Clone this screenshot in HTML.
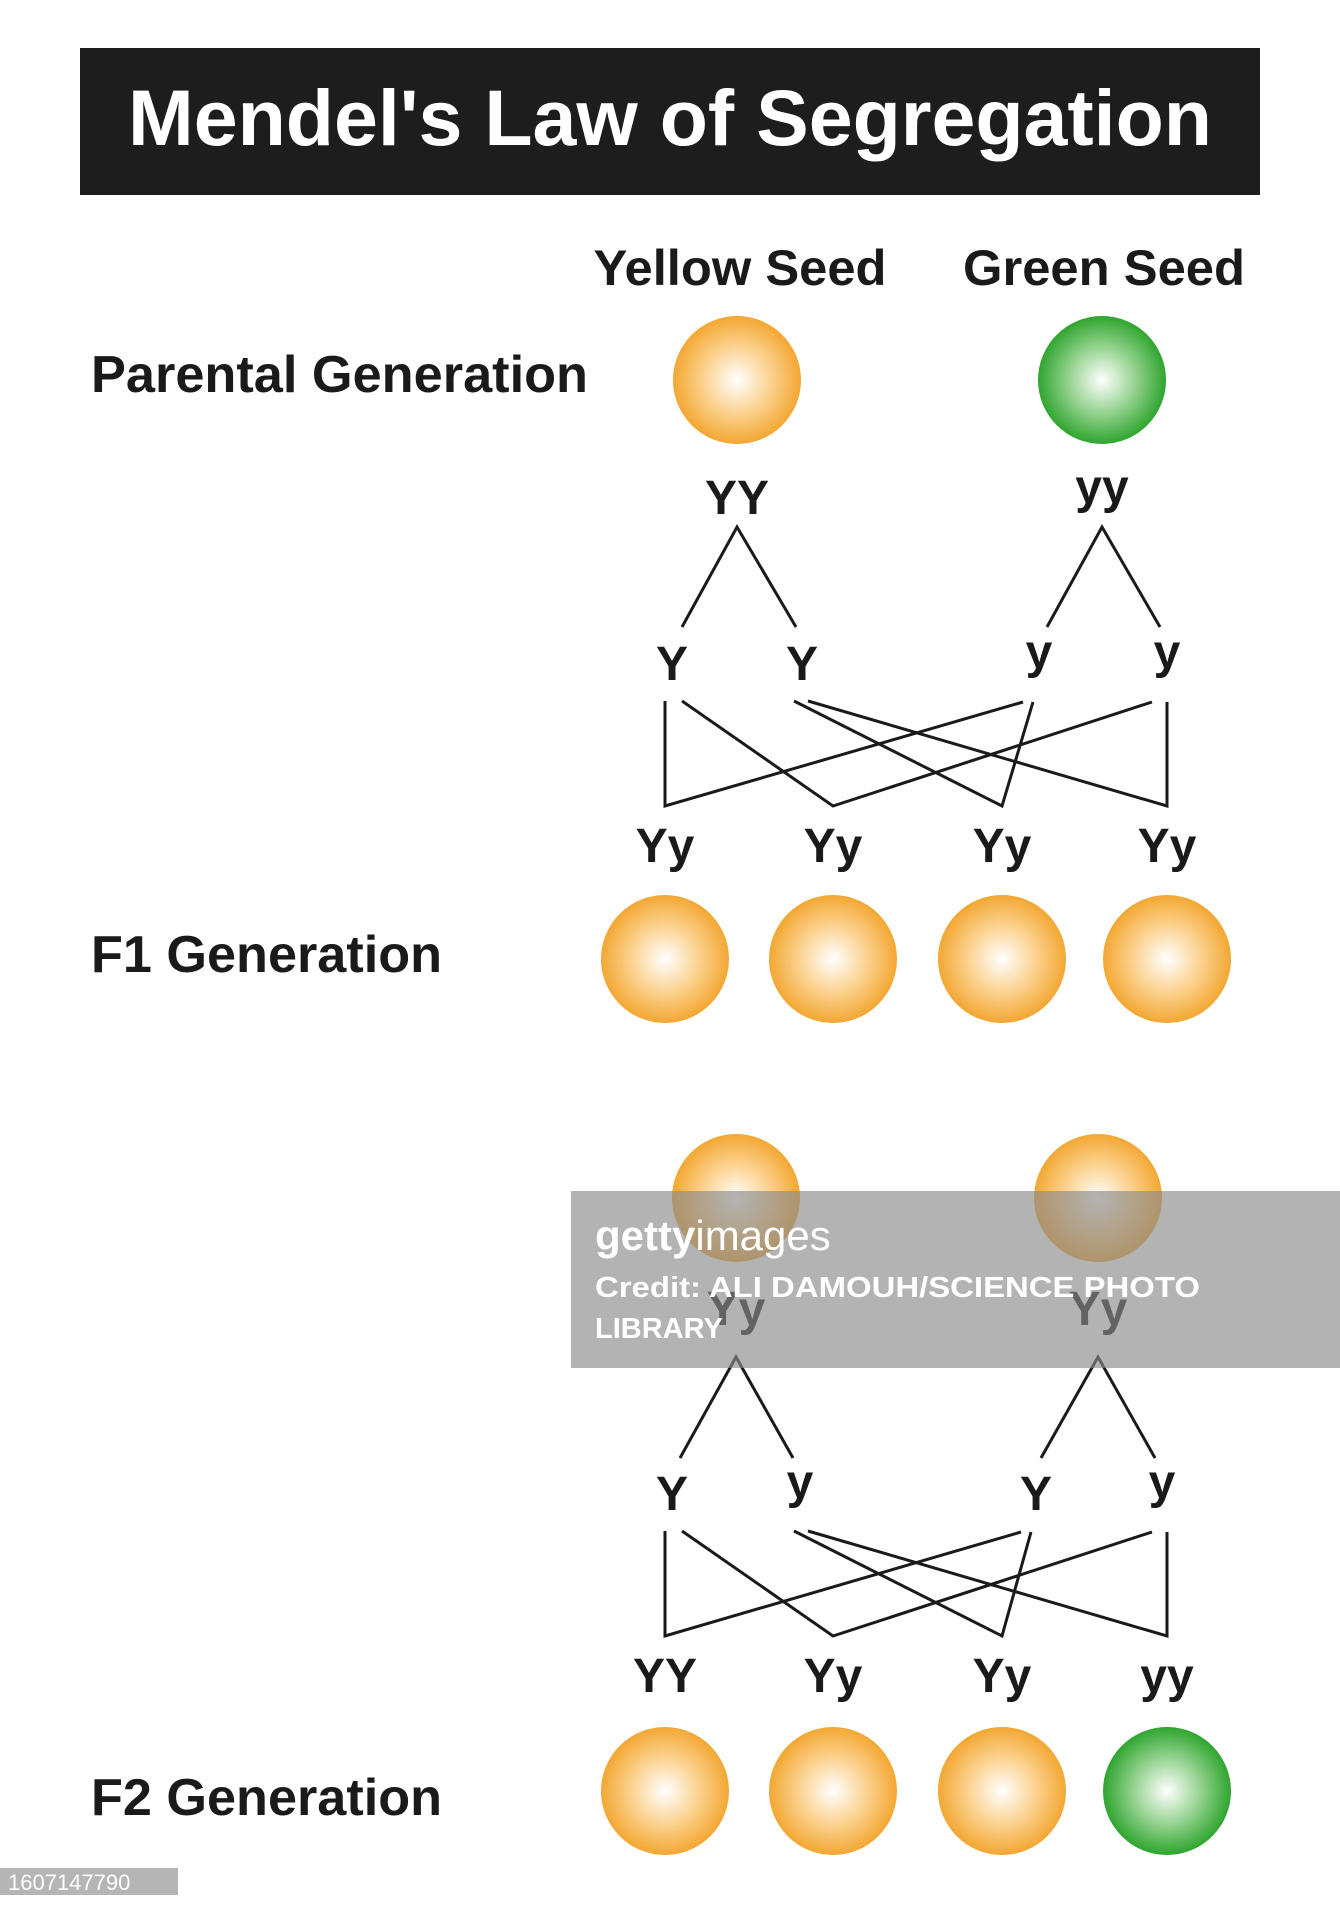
<!DOCTYPE html>
<html><head><meta charset="utf-8"><style>
html,body{margin:0;padding:0;background:#fff}
svg{display:block}
text{font-family:"Liberation Sans",Arial,sans-serif;font-weight:bold;fill:#1a1a1a}
</style></head><body>
<svg width="1340" height="1920" viewBox="0 0 1340 1920" xmlns="http://www.w3.org/2000/svg">
<defs>
<radialGradient id="yg" cx="50%" cy="50%" r="50%">
<stop offset="0" stop-color="#ffffff"/><stop offset="0.55" stop-color="#fbd08a"/><stop offset="1" stop-color="#f3a733"/>
</radialGradient>
<radialGradient id="gg" cx="50%" cy="50%" r="50%">
<stop offset="0" stop-color="#ffffff"/><stop offset="0.55" stop-color="#8fd08a"/><stop offset="1" stop-color="#2fa52f"/>
</radialGradient>
</defs>
<rect x="80" y="48" width="1180" height="147" fill="#1d1d1d"/>
<text x="670" y="145" text-anchor="middle" font-size="79" textLength="1084" lengthAdjust="spacingAndGlyphs" style="fill:#fff">Mendel's Law of Segregation</text>

<text x="740" y="285" text-anchor="middle" font-size="50" textLength="293" lengthAdjust="spacingAndGlyphs">Yellow Seed</text>
<text x="1104" y="285" text-anchor="middle" font-size="50" textLength="282" lengthAdjust="spacingAndGlyphs">Green Seed</text>
<text x="91" y="392" font-size="52" textLength="497" lengthAdjust="spacingAndGlyphs">Parental Generation</text>
<circle cx="737" cy="380" r="64" fill="url(#yg)"/>
<circle cx="1102" cy="380" r="64" fill="url(#gg)"/>
<text x="737" y="514" text-anchor="middle" font-size="48">YY</text>
<text x="1102" y="503" text-anchor="middle" font-size="48">yy</text>

<g stroke="#1a1a1a" stroke-width="3" fill="none">
<polyline points="682,627 737,527 796,627"/>
<polyline points="1047,627 1102,527 1160,627"/>
<polyline points="665,701 665,806 1023,702"/>
<polyline points="682,701 833,806 1152,702"/>
<polyline points="794,701 1002,806 1033,702"/>
<polyline points="808,701 1167,806 1167,702"/>

<polyline points="680,1458 736,1357 793,1458"/>
<polyline points="1041,1458 1098,1357 1155,1458"/>
<polyline points="665,1531 665,1636 1021,1532"/>
<polyline points="682,1531 833,1636 1152,1532"/>
<polyline points="794,1531 1002,1636 1031,1532"/>
<polyline points="808,1531 1167,1636 1167,1532"/>
</g>

<g font-size="48" text-anchor="middle">
<text x="672" y="680">Y</text><text x="802" y="680">Y</text>
<text x="1039" y="668">y</text><text x="1167" y="668">y</text>
<text x="665" y="862">Yy</text><text x="833" y="862">Yy</text><text x="1002" y="862">Yy</text><text x="1167" y="862">Yy</text>
</g>
<text x="91" y="972" font-size="52" textLength="351" lengthAdjust="spacingAndGlyphs">F1 Generation</text>
<circle cx="665" cy="959" r="64" fill="url(#yg)"/>
<circle cx="833" cy="959" r="64" fill="url(#yg)"/>
<circle cx="1002" cy="959" r="64" fill="url(#yg)"/>
<circle cx="1167" cy="959" r="64" fill="url(#yg)"/>

<circle cx="736" cy="1198" r="64" fill="url(#yg)"/>
<circle cx="1098" cy="1198" r="64" fill="url(#yg)"/>
<g font-size="48" text-anchor="middle">
<text x="736" y="1325">Yy</text><text x="1098" y="1325">Yy</text>
<text x="672" y="1510">Y</text><text x="800" y="1498">y</text>
<text x="1036" y="1510">Y</text><text x="1162" y="1498">y</text>
<text x="665" y="1692">YY</text><text x="833" y="1692">Yy</text><text x="1002" y="1692">Yy</text><text x="1167" y="1692">yy</text>
</g>
<text x="91" y="1815" font-size="52" textLength="351" lengthAdjust="spacingAndGlyphs">F2 Generation</text>
<circle cx="665" cy="1791" r="64" fill="url(#yg)"/>
<circle cx="833" cy="1791" r="64" fill="url(#yg)"/>
<circle cx="1002" cy="1791" r="64" fill="url(#yg)"/>
<circle cx="1167" cy="1791" r="64" fill="url(#gg)"/>

<rect x="571" y="1191" width="769" height="177" fill="#8a8a8a" fill-opacity="0.65"/>
<text x="595" y="1250" font-size="42" style="fill:#fff">getty<tspan font-weight="normal">images</tspan></text>
<text x="595" y="1297" font-size="29" textLength="605" lengthAdjust="spacingAndGlyphs" style="fill:#fff">Credit: ALI DAMOUH/SCIENCE PHOTO</text>
<text x="595" y="1338" font-size="29" style="fill:#fff">LIBRARY</text>

<rect x="0" y="1868" width="178" height="27" fill="#b5b5b5"/>
<text x="8" y="1890" font-size="22" style="fill:#fff;font-weight:normal">1607147790</text>
</svg>
</body></html>
